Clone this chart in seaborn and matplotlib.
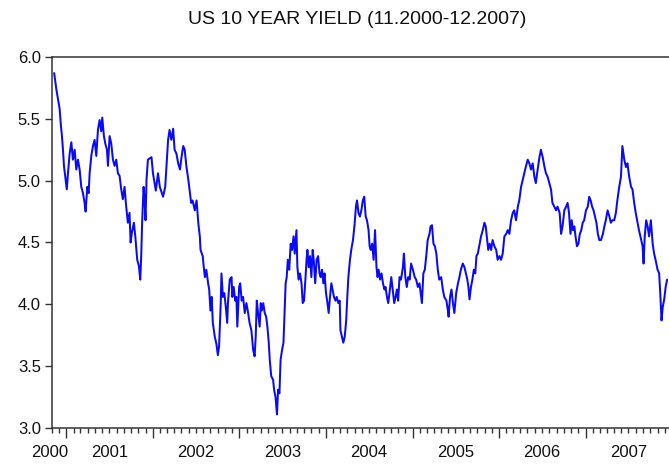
import numpy as np
import pandas as pd
import seaborn as sns
import matplotlib.pyplot as plt
import matplotlib.dates as mdates
from matplotlib.ticker import NullFormatter, MultipleLocator

# months elapsed since 1 Nov 2000, and the yield read at that time
months = [
    0.3, 0.6, 0.83, 1.06, 1.2, 1.38, 1.52, 1.66, 1.85, 2.05, 2.2, 2.45, 2.68, 2.9, 3.14, 3.37,
    3.6, 3.83, 4.06, 4.29, 4.52, 4.66, 4.9, 5.08, 5.22, 5.45, 5.68, 5.91, 6.14, 6.37, 6.6, 6.83,
    6.97, 7.2, 7.39, 7.62, 7.76, 7.99, 8.22, 8.45, 8.68, 8.91, 9.14, 9.37, 9.6, 9.83, 10.06, 10.29,
    10.52, 10.75, 10.9, 11.08, 11.36, 11.55, 11.82, 12.05, 12.24,
    12.37, 12.51, 12.7, 12.83, 12.97, 13.11, 13.3, 13.53, 13.8, 14.0, 14.4, 14.7, 14.95, 15.4, 15.7,
    16.1, 16.3, 16.55, 16.8, 17.0, 17.25, 17.5, 17.75, 17.96, 18.2, 18.4, 18.65, 18.9,
    19.3, 19.5, 19.8, 20.05, 20.3, 20.5, 20.6, 20.9, 21.05, 21.2, 21.4, 21.65, 21.8, 21.97, 22.15,
    22.3, 22.57, 22.8, 23.0, 23.17, 23.4, 23.5, 23.7, 23.9, 24.1, 24.3, 24.4, 24.65, 24.9, 25.0,
    25.2, 25.4, 25.57, 25.7, 25.95, 26.1, 26.3, 26.5, 26.73, 26.96, 27.2, 27.4, 27.65, 27.9, 28.1,
    28.25,
    28.4, 28.58, 28.8, 28.95, 29.1, 29.3, 29.5, 29.7, 29.87, 30.06, 30.2, 30.4, 30.66, 30.8, 31.0,
    31.1, 31.2, 31.35, 31.54, 31.7, 31.9, 32.1, 32.27, 32.4, 32.55, 32.7, 32.9, 33.1, 33.29, 33.5,
    33.66, 33.9, 34.03, 34.2, 34.4, 34.6, 34.77, 34.95, 35.14, 35.3, 35.42, 35.6, 35.78, 35.97,
    36.15, 36.3, 36.5, 36.7, 36.9, 37.1, 37.26, 37.45, 37.63, 37.8, 38.0, 38.2, 38.37, 38.55,
    38.74, 38.9, 39.1, 39.3, 39.48, 39.7, 39.9, 40.0, 40.2, 40.4, 40.6, 40.8, 40.95, 41.1, 41.32,
    41.5, 41.74, 41.97, 42.15, 42.3, 42.5, 42.7, 42.9,
    43.1, 43.3, 43.5, 43.68, 43.9, 44.05, 44.2, 44.4, 44.6, 44.8, 45.0, 45.15, 45.3, 45.5, 45.7,
    45.9, 46.1, 46.26, 46.45, 46.63, 46.8, 47.05, 47.3, 47.46, 47.65, 47.83, 48.0, 48.2, 48.4,
    48.66, 48.8, 49.0, 49.2, 49.4, 49.6, 49.8, 50.05, 50.3, 50.5, 50.74, 50.96, 51.2, 51.3, 51.5,
    51.7, 51.9, 52.1, 52.35, 52.5, 52.7, 52.9, 53.1, 53.3, 53.5, 53.7, 53.97, 54.2, 54.4, 54.7,
    54.9, 55.0, 55.2, 55.4, 55.6, 55.8, 56.05, 56.3, 56.5, 56.7, 56.97, 57.2,
    57.4, 57.6, 57.75, 57.9, 58.1, 58.3, 58.5, 58.7, 58.86, 59.05, 59.3, 59.5, 59.74, 59.97, 60.15,
    60.3, 60.5, 60.7, 60.9, 61.1, 61.35, 61.6, 61.8, 62.05, 62.28, 62.5, 62.74, 63.0, 63.2, 63.43,
    63.66, 63.9, 64.1, 64.35, 64.6, 64.8, 65.05, 65.3, 65.5, 65.7, 65.97, 66.2, 66.43, 66.66, 66.9,
    67.1, 67.35, 67.6, 67.8, 68.05, 68.3, 68.5, 68.74, 68.97, 69.2, 69.4, 69.66, 69.9, 70.1, 70.4,
    70.6, 70.8, 71.05, 71.3,
    71.5, 71.7, 71.9, 72.07, 72.25, 72.44, 72.6, 72.8, 73.0, 73.2, 73.4, 73.6, 73.8, 74.05, 74.3,
    74.5, 74.7, 74.9, 75.1, 75.3, 75.5, 75.7, 75.9, 76.13, 76.4, 76.6, 76.8, 77.05, 77.3, 77.5,
    77.7, 77.97, 78.2, 78.4, 78.66, 78.9, 79.1, 79.36, 79.6, 79.8, 80.05, 80.3, 80.5, 80.74, 80.95,
    81.2, 81.4, 81.6, 81.9, 82.04, 82.2, 82.4, 82.6, 82.8, 83.05, 83.3, 83.5, 83.7, 83.98, 84.2,
    84.35, 84.53, 84.7, 84.9, 85.1, 85.3,
]
yields = [
    5.87, 5.74, 5.66, 5.58, 5.47, 5.36, 5.25, 5.12, 5.03, 4.93, 5.05, 5.22, 5.31, 5.17, 5.25, 5.09,
    5.17, 5.09, 4.95, 4.90, 4.82, 4.75, 4.95, 4.90, 5.06, 5.20, 5.28, 5.33, 5.20, 5.41, 5.49, 5.40,
    5.51, 5.36, 5.30, 5.25, 5.12, 5.36, 5.30, 5.17, 5.12, 5.17, 5.06, 5.04, 4.93, 4.85, 4.95, 4.79,
    4.66, 4.74, 4.50, 4.58, 4.66, 4.55, 4.36, 4.31, 4.20,
    4.39, 4.68, 4.95, 4.85, 4.68, 5.01, 5.17, 5.18, 5.19, 5.06, 4.92, 5.06, 4.95, 4.87, 4.95,
    5.33, 5.41, 5.33, 5.42, 5.25, 5.22, 5.14, 5.09, 5.19, 5.28, 5.25, 5.11, 5.01,
    4.82, 4.84, 4.76, 4.84, 4.65, 4.55, 4.44, 4.39, 4.30, 4.22, 4.28, 4.17, 4.12, 3.95, 4.06,
    3.85, 3.74, 3.68, 3.59, 3.66, 4.01, 4.25, 4.06, 4.09, 3.98, 3.85, 4.01, 4.20, 4.22, 4.06,
    4.14, 4.03, 4.06, 3.82, 4.14, 4.17, 4.03, 4.06, 3.93, 4.01, 3.93, 3.85, 3.79, 3.63, 3.58,
    3.74,
    4.03, 3.93, 3.82, 4.01, 3.95, 4.01, 3.93, 3.90, 3.82, 3.69, 3.55, 3.42, 3.39, 3.31, 3.25,
    3.18, 3.11, 3.31, 3.28, 3.55, 3.63, 3.69, 3.95, 4.17, 4.22, 4.36, 4.28, 4.49, 4.44, 4.55,
    4.41, 4.60, 4.30, 4.20, 4.25, 4.17, 4.01, 4.03, 4.20, 4.36, 4.44, 4.30, 4.39, 4.22,
    4.44, 4.36, 4.17, 4.36, 4.39, 4.25, 4.22, 4.28, 4.17, 4.25, 4.09, 4.01, 3.93, 4.06,
    4.17, 4.12, 4.06, 4.03, 4.06, 4.01, 4.03, 3.79, 3.74, 3.69, 3.74, 3.87, 4.06, 4.22, 4.36,
    4.44, 4.52, 4.65, 4.79, 4.84, 4.74, 4.71, 4.76,
    4.84, 4.87, 4.71, 4.68, 4.60, 4.47, 4.44, 4.49, 4.36, 4.60, 4.30, 4.22, 4.28, 4.20, 4.25,
    4.17, 4.12, 4.14, 4.06, 4.01, 4.09, 4.22, 4.09, 4.01, 4.06, 4.12, 4.03, 4.22, 4.20,
    4.30, 4.41, 4.22, 4.14, 4.22, 4.20, 4.33, 4.28, 4.22, 4.20, 4.14, 4.17, 4.06, 4.01, 4.25,
    4.28, 4.39, 4.52, 4.57, 4.63, 4.64, 4.49, 4.47, 4.41, 4.28, 4.20, 4.22, 4.12, 4.06, 4.03,
    3.95, 3.90, 4.06, 4.12, 4.01, 3.93, 4.09, 4.17, 4.22, 4.28, 4.33, 4.30,
    4.25, 4.20, 4.14, 4.04, 4.14, 4.20, 4.28, 4.25, 4.39, 4.41, 4.49, 4.55, 4.60, 4.66, 4.63,
    4.55, 4.44, 4.49, 4.44, 4.52, 4.47, 4.44, 4.36, 4.39, 4.36, 4.41, 4.55, 4.57, 4.60, 4.57,
    4.68, 4.74, 4.76, 4.68, 4.79, 4.84, 4.95, 5.01, 5.06, 5.11, 5.17, 5.14, 5.09, 5.14, 5.03,
    4.98, 5.09, 5.19, 5.25, 5.19, 5.11, 5.06, 5.03, 4.98, 4.93, 4.82, 4.79, 4.76, 4.79, 4.74,
    4.57, 4.63, 4.76, 4.79,
    4.82, 4.74, 4.57, 4.68, 4.60, 4.63, 4.55, 4.47, 4.49, 4.57, 4.60, 4.66, 4.68, 4.76, 4.79,
    4.87, 4.84, 4.79, 4.76, 4.71, 4.66, 4.57, 4.52, 4.52, 4.57, 4.63, 4.68, 4.76, 4.71, 4.66,
    4.68, 4.68, 4.74, 4.84, 4.95, 5.03, 5.28, 5.17, 5.11, 5.14, 5.03, 4.95, 4.93, 4.82, 4.74,
    4.66, 4.60, 4.55, 4.47, 4.33, 4.55, 4.68, 4.63, 4.55, 4.68, 4.49, 4.41, 4.36, 4.28, 4.25,
    4.09, 3.87, 3.98, 4.04, 4.14, 4.20,
]
year_labels = ['2000', '2001', '2002', '2003', '2004', '2005', '2006', '2007']
year_label_dates = ['2000-10-23', '2001-07-01', '2002-07-01', '2003-07-01',
                    '2004-07-01', '2005-07-01', '2006-07-01', '2007-07-01']

start = pd.Timestamp('2000-11-01')
df = pd.DataFrame({
    'date': start + pd.to_timedelta(np.array(months) * 30.437, unit='D'),
    'yield': yields,
})

sns.set_style('ticks')
plt.rcParams['font.family'] = ['Liberation Sans', 'DejaVu Sans']

fig = plt.figure(figsize=(6.69, 4.65), dpi=100)
ax = fig.add_axes([52 / 669, 37 / 465, 620 / 669, 371 / 465])

sns.lineplot(data=df, x='date', y='yield', ax=ax, color='#0a0af5', linewidth=1.45)

ax.set_xlim(pd.Timestamp('2000-11-01'), pd.Timestamp('2008-01-01'))
ax.set_ylim(3.0, 6.0)
ax.yaxis.set_major_locator(MultipleLocator(0.5))
ax.yaxis.set_major_formatter(plt.FuncFormatter(lambda v, p: f'{v:.1f}'))

ax.xaxis.set_major_locator(mdates.YearLocator())
ax.xaxis.set_minor_locator(mdates.MonthLocator())
ax.xaxis.set_major_formatter(NullFormatter())
ax.tick_params(axis='x', which='major', direction='out', length=7, width=1, color='#333333')
ax.tick_params(axis='x', which='minor', direction='out', length=3.5, width=1, color='#333333')
ax.tick_params(axis='y', direction='out', length=5, width=1, color='#333333',
               labelsize=12, pad=3, labelcolor='#111111')
ax.set_xlabel('')
ax.set_ylabel('')

for s in ax.spines.values():
    s.set_visible(True)
    s.set_color('#333333')
    s.set_linewidth(1.1)

for lab, d in zip(year_labels, year_label_dates):
    ax.text(pd.Timestamp(d), -0.067, lab, transform=ax.get_xaxis_transform(),
            ha='center', va='center', fontsize=12, color='#111111', clip_on=False)

fig.text(357 / 669, 1 - 20 / 465, 'US 10 YEAR YIELD (11.2000-12.2007)',
         ha='center', va='center', fontsize=14, color='#111111')

fig.savefig('out.png', dpi=100)
